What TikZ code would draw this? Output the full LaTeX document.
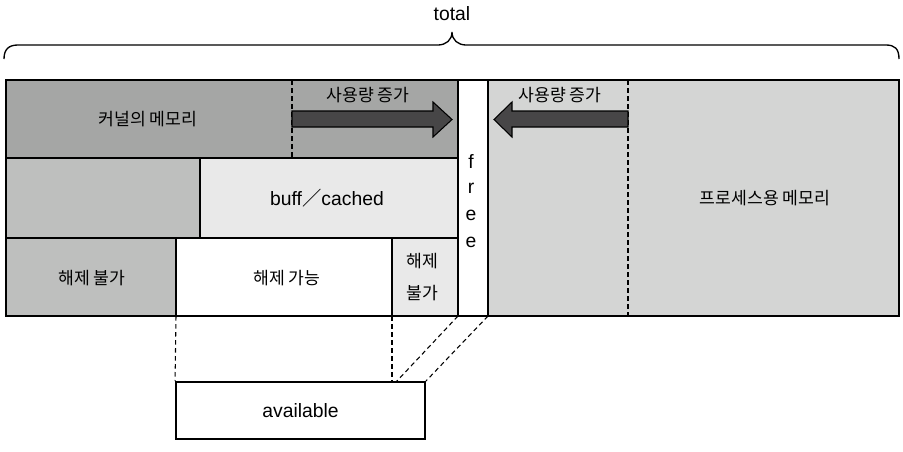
\documentclass[tikz,border=0pt]{standalone}
\usepackage{fontspec}
\setmainfont{Liberation Sans}
\newfontfamily\kr{Noto Sans CJK KR}
\definecolor{kern}{HTML}{A5A6A5}
\definecolor{midg}{HTML}{BEBFBE}
\definecolor{light}{HTML}{E9E9E9}
\definecolor{proc}{HTML}{D4D5D4}
\definecolor{arr}{HTML}{474647}
\begin{document}
\begin{tikzpicture}[x=0.75pt,y=-0.75pt,
  krtext/.style={font=\kr\fontsize{12.9}{16}\selectfont, inner sep=0pt, align=center},
  latext/.style={font=\fontsize{14.5}{18}\selectfont, inner sep=0pt},
  boxline/.style={line width=1.4pt},
  dashline/.style={line width=0.8pt, dash pattern=on 3.5pt off 2.5pt},
  bigarrow/.style={fill=arr, draw=black, line width=0.8pt, line join=miter}]
\useasboundingbox (0,0) rectangle (903,451);
% fills
\fill[kern] (6,80) rectangle (458,158);
\fill[midg] (6,158) rectangle (200,238);
\fill[light] (200,158) rectangle (458,238);
\fill[midg] (6,238) rectangle (176,316);
\fill[white] (176,238) rectangle (392,316);
\fill[light] (392,238) rectangle (458,316);
\fill[white] (458,80) rectangle (488,316);
\fill[proc] (488,80) rectangle (899,316);
% dashed separators
\draw[dashline] (292,80) -- (292,158);
\draw[dashline] (628,80) -- (628,316);
% arrows
\draw[bigarrow] (292,111) -- (433,111) -- (433,102) -- (452,119.5) -- (433,137) -- (433,127) -- (292,127) -- cycle;
\draw[bigarrow] (628,111) -- (512,111) -- (512,102) -- (494,119.5) -- (512,137) -- (512,127) -- (628,127) -- cycle;
% lines
\draw[boxline] (6,158) -- (458,158);
\draw[boxline] (6,238) -- (458,238);
\draw[boxline] (200,158) -- (200,238);
\draw[boxline] (176,238) -- (176,316);
\draw[boxline] (392,238) -- (392,316);
\draw[boxline] (458,80) -- (458,316);
\draw[boxline] (488,80) -- (488,316);
\draw[line width=1.6pt] (6,80) rectangle (899,316);
% brace
\draw[line width=1pt] (4,59) .. controls (4,49) and (9,45) .. (18,45) -- (438,45)
  .. controls (446,45) and (452,40) .. (452,32)
  .. controls (452,40) and (458,45) .. (466,45) -- (886,45)
  .. controls (895,45) and (899,49) .. (899,59);
\node[latext] (total) at (452,14) {total};
% texts
\node[krtext] (kernel) at (148,119) {커널의 메모리};
\node[krtext] (incR) at (368,95) {사용량 증가};
\node[krtext] (incL) at (560,95) {사용량 증가};
\node[latext] (buff) at (327,198) {buff{\kr ／}cached};
\node[krtext] (nofree1) at (92,278) {해제 불가};
\node[krtext] (canfree) at (287,278) {해제 가능};
\node[krtext, font=\kr\fontsize{12.9}{24}\selectfont] (nofree2) at (422,277) {해제\\불가};
\node[latext] (f1) at (471,161) {f};
\node[latext] (f2) at (471,188) {r};
\node[latext] (f3) at (471,215) {e};
\node[latext] (f4) at (471,242) {e};
\node[krtext] (proctext) at (765,198) {프로세스용 메모리};
% available
\node[draw, line width=1.4pt, minimum width=249*0.75pt, minimum height=57*0.75pt, inner sep=0pt, font=\fontsize{14.5}{18}\selectfont] (avail) at (300.5,410.5) {available};
\coordinate (a1) at (176,316);
\coordinate (a2) at (392,316);
\coordinate (a3) at (458,316);
\coordinate (a4) at (488,316);
\coordinate (b3) at (396,382);
\draw[dashline] (a1) -- (avail.north west);
\draw[dashline] (a2) -- (a2 |- avail.north);
\draw[dashline] (a3) -- (b3);
\draw[dashline] (a4) -- (avail.north east);
\end{tikzpicture}
\end{document}
